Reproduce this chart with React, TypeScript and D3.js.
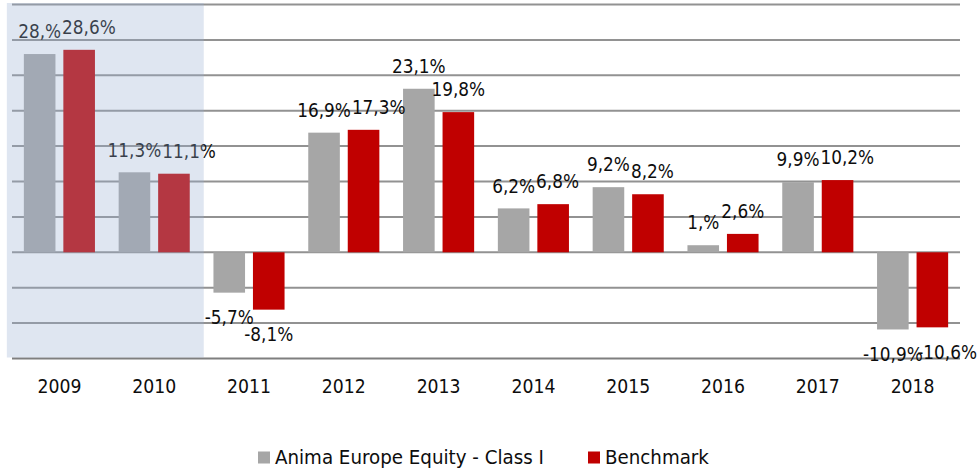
import React from "react";
import * as d3 from "d3";

const years = ["2009", "2010", "2011", "2012", "2013", "2014", "2015", "2016", "2017", "2018"];
const fundValues = [28.0, 11.3, -5.7, 16.9, 23.1, 6.2, 9.2, 1.0, 9.9, -10.9];
const benchValues = [28.6, 11.1, -8.1, 17.3, 19.8, 6.8, 8.2, 2.6, 10.2, -10.6];
const fundLabels = ["28,%", "11,3%", "-5,7%", "16,9%", "23,1%", "6,2%", "9,2%", "1,%", "9,9%", "-10,9%"];
const benchLabels = ["28,6%", "11,1%", "-8,1%", "17,3%", "19,8%", "6,8%", "8,2%", "2,6%", "10,2%", "-10,6%"];
const seriesNames = ["Anima Europe Equity - Class I", "Benchmark"];
const shadedYears = ["2009", "2010"];
const yTicks = [-15, -10, -5, 0, 5, 10, 15, 20, 25, 30, 35];

const W = 977;
const H = 468;
const FONT = "'DejaVu Sans Condensed', 'DejaVu Sans', sans-serif";
const LABEL_SIZE = 18.8;

let ctx: CanvasRenderingContext2D | null = null;
function measure(text: string, size: number) {
  if (!ctx) {
    const c = document.createElement("canvas");
    ctx = c.getContext("2d");
  }
  if (!ctx) return text.length * size * 0.55;
  ctx.font = `${size}px 'DejaVu Sans Condensed'`;
  return ctx.measureText(text).width;
}

export default function App() {
  const x = d3.scaleBand<string>().domain(years).range([12, 960]).paddingInner(0.25).paddingOuter(0.125);
  const xs = d3.scaleBand<number>().domain([0, 1]).range([0, x.bandwidth()]).paddingInner(0.2);
  const y = d3.scaleLinear().domain([-15, 35]).range([358.5, 4.5]);

  const fundColor = "#a6a6a6";
  const benchColor = "#c00000";

  const labelPos = (v: number) => {
    const end = y(v);
    return v >= 0 ? end - 15.75 : end + 31.75;
  };

  const labels: { text: string; x: number; y: number }[] = [];
  years.forEach((yr, i) => {
    const gx = (x(yr) as number) + (xs(0) as number) + xs.bandwidth() / 2;
    const rx0 = (x(yr) as number) + (xs(1) as number) + xs.bandwidth() / 2;
    const gy = labelPos(fundValues[i]);
    const ry = labelPos(benchValues[i]);
    const gw = measure(fundLabels[i], LABEL_SIZE);
    const rw = measure(benchLabels[i], LABEL_SIZE);
    let rLeft = rx0 - rw / 2;
    if (Math.abs(gy - ry) < 12) {
      rLeft = Math.max(rLeft, gx + gw / 2 + 1);
    }
    if (rLeft + rw > W) rLeft = W - rw;
    labels.push({ text: fundLabels[i], x: gx, y: gy });
    labels.push({ text: benchLabels[i], x: rLeft + rw / 2, y: ry });
  });

  const shadeLeft = (x(shadedYears[0]) as number) - 17;
  const shadeRight = (x(shadedYears[shadedYears.length - 1]) as number) + x.bandwidth() + 14;

  return (
    <svg width={W} height={H} style={{ position: "absolute", left: 0, top: 0, background: "#fff" }} fontFamily={FONT}>
      {yTicks.filter((t) => t !== -15).map((t) => (
        <line key={t} x1={12} x2={960} y1={y(t)} y2={y(t)} stroke="#929292" strokeWidth={2} />
      ))}
      <line x1={12} x2={960} y1={y(-15)} y2={y(-15)} stroke="#7f7f7f" strokeWidth={2.2} />
      {years.map((yr, i) => {
        const x0 = x(yr) as number;
        const vals = [fundValues[i], benchValues[i]];
        return vals.map((v, j) => (
          <rect
            key={yr + j}
            x={x0 + (xs(j) as number)}
            width={xs.bandwidth()}
            y={Math.min(y(v), y(0))}
            height={Math.abs(y(v) - y(0))}
            fill={j === 0 ? fundColor : benchColor}
          />
        ));
      })}
      {labels.map((l, i) => (
        <text key={i} x={l.x} y={l.y} fontSize={LABEL_SIZE} textAnchor="middle" fill="#0d0d0d">
          {l.text}
        </text>
      ))}
      <rect x={shadeLeft} y={3} width={shadeRight - shadeLeft} height={y(-15) - 1 - 3} fill="rgb(153,176,210)" fillOpacity={0.315} />
      {years.map((yr) => (
        <text key={yr} x={(x(yr) as number) + x.bandwidth() / 2} y={393} fontSize={19.2} textAnchor="middle" fill="#0d0d0d">
          {yr}
        </text>
      ))}
      <g>
        <rect x={258} y={451.5} width={12} height={12} fill={fundColor} />
        <text x={275} y={464} fontSize={20.3} fill="#0d0d0d">{seriesNames[0]}</text>
        <rect x={588} y={451.5} width={12} height={12} fill={benchColor} />
        <text x={605} y={464} fontSize={20.3} fill="#0d0d0d">{seriesNames[1]}</text>
      </g>
    </svg>
  );
}
